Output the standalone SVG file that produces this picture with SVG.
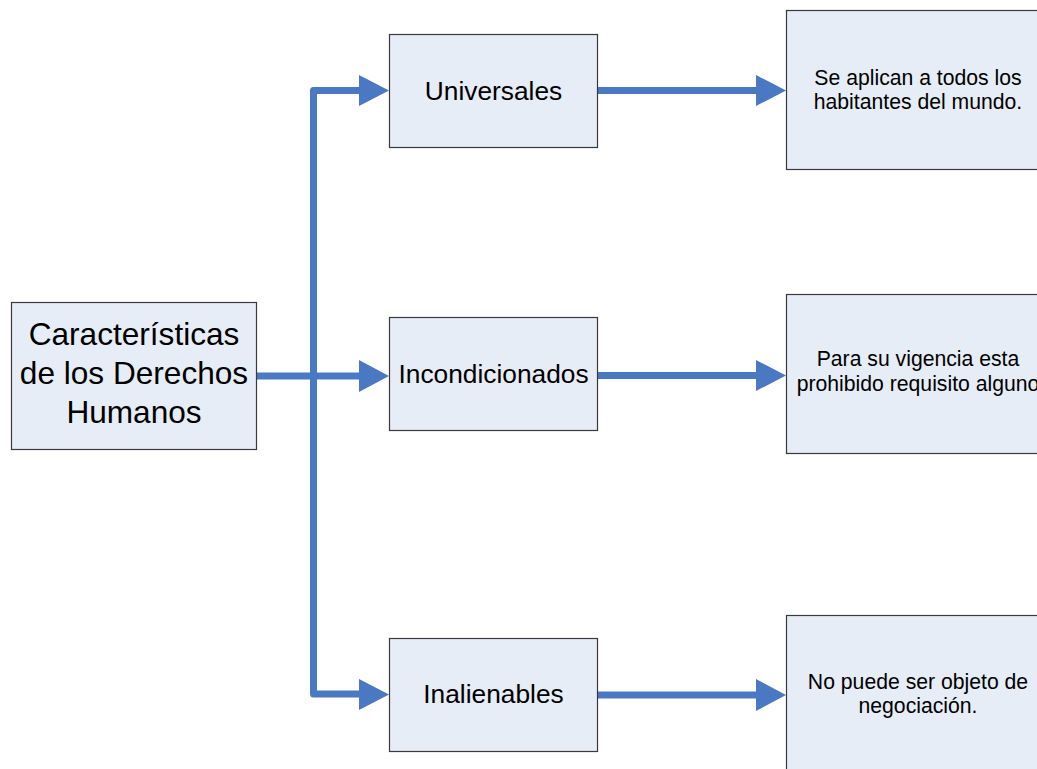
<svg xmlns="http://www.w3.org/2000/svg" width="1037" height="769" viewBox="0 0 1037 769">
  <style>
    .box { fill: #E7EDF7; stroke: #3a3a3a; stroke-width: 1.2; }
    .txt { font-family: "Liberation Sans", Arial, sans-serif; fill: #000; text-anchor: middle; }
    .big { font-size: 31.6px; }
    .mid { font-size: 26.3px; }
    .small { font-size: 21.2px; }
    .wire { fill: none; stroke: #4A78C2; stroke-width: 7; stroke-linecap: round; stroke-linejoin: round; }
    .head { fill: #4A78C2; }
  </style>
  <rect width="1037" height="769" fill="#ffffff"/>

  <!-- connectors -->
  <g id="connectors">
    <path class="wire" d="M360 90.5 H313.5 V694 H360"/>
    <path class="wire" d="M255 376 H360"/>
    <polygon class="head" points="359,75 389,90.5 359,106"/>
    <polygon class="head" points="359,360 389,376 359,392"/>
    <polygon class="head" points="359,679 389,694.5 359,710"/>
    <path class="wire" d="M595 90.5 H758"/>
    <path class="wire" d="M595 375.5 H758"/>
    <path class="wire" d="M595 695 H758"/>
    <polygon class="head" points="756,75 786,90.5 756,106"/>
    <polygon class="head" points="756,360 786,375.5 756,391"/>
    <polygon class="head" points="756,679 786,695 756,711"/>
  </g>

  <!-- root node -->
  <g id="node-root">
    <rect class="box" x="11.5" y="302.5" width="245" height="147"/>
    <text class="txt big" x="134" y="345">Características</text>
    <text class="txt big" x="134" y="384">de los Derechos</text>
    <text class="txt big" x="134" y="423">Humanos</text>
  </g>

  <!-- category nodes -->
  <g id="node-universales">
    <rect class="box" x="389.5" y="34.5" width="208" height="113"/>
    <text class="txt mid" x="493.5" y="100">Universales</text>
  </g>
  <g id="node-incondicionados">
    <rect class="box" x="389.5" y="317.5" width="208" height="113"/>
    <text class="txt mid" x="493.5" y="383">Incondicionados</text>
  </g>
  <g id="node-inalienables">
    <rect class="box" x="389.5" y="638.5" width="208" height="113"/>
    <text class="txt mid" x="493.5" y="703">Inalienables</text>
  </g>

  <!-- description nodes -->
  <g id="desc-universales">
    <rect class="box" x="786.5" y="10.5" width="264" height="159"/>
    <text class="txt small" x="918" y="85">Se aplican a todos los</text>
    <text class="txt small" x="918" y="109">habitantes del mundo.</text>
  </g>
  <g id="desc-incondicionados">
    <rect class="box" x="786.5" y="294.5" width="264" height="159"/>
    <text class="txt small" x="918" y="366">Para su vigencia esta</text>
    <text class="txt small" x="918" y="390.5">prohibido requisito alguno</text>
  </g>
  <g id="desc-inalienables">
    <rect class="box" x="786.5" y="615.5" width="264" height="159"/>
    <text class="txt small" x="918" y="689">No puede ser objeto de</text>
    <text class="txt small" x="918" y="713">negociación.</text>
  </g>
</svg>
